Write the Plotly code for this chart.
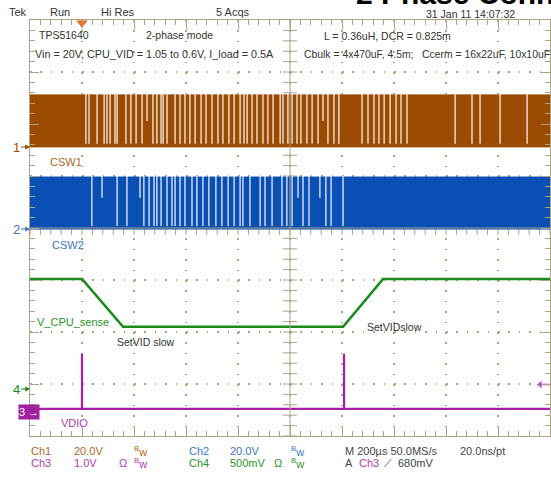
import numpy as np
import plotly.graph_objects as go

# ---------------- data ----------------
time_range_us = [-200, 1800]          # 200 us/div, trigger at t=0
csw_levels_v = [0, 20]                # switch node swings 0..Vin
csw1_gaps_us = [15, 27, 58, 85, 96, 108, 127, 135, 169, 188, 208, 231, 273, 288, 304, 312,
                327, 358, 377, 396, 415, 435, 458, 477, 500, 523, 542, 565, 585, 608, 623,
                635, 654, 673, 696, 715, 735, 762, 773, 792, 808, 827, 842, 865, 885, 908,
                946, 969, 988, 1077, 1100, 1123, 1142, 1162, 1185, 1208, 1227, 1250, 1435,
                1500, 1531, 1608, 1712]
csw1_short_gaps_us = [250, 927]
csw2_gaps_us = [38, 135, 173, 238, 258, 277, 288, 304, 327, 346, 358, 377, 396, 423, 442,
                465, 488, 515, 538, 562, 585, 608, 619, 646, 685, 704, 731, 769, 788, 808,
                850, 873, 938, 958, 1004]
csw2_short_gaps_us = [77, 223, 831, 915]
vcpu_t_us = [-200, 0, 158, 1004, 1158, 1800]
vcpu_v = [1.06, 1.06, 0.60, 0.60, 1.06, 1.06]
vdio_t_us = [-200, 0, 0, 0, 1008, 1008, 1008, 1800]
vdio_v = [0.21, 0.21, 1.27, 0.21, 0.21, 1.27, 0.21, 0.21]
trigger_level_v = 0.68

# channel volts/div and offset (divisions from centre)
ch_scale = {"ch1": 20.0, "ch2": 20.0, "ch3": 1.0, "ch4": 0.5}
ch_pos = {"ch1": 1.56, "ch2": -0.02, "ch3": -3.69, "ch4": -3.10}

# ---------------- geometry ----------------
W, H = 551, 478
L, R, T, B = 30, 1, 20, 42
PW, PH = W - L - R, H - T - B
TAN = "#aca486"
FONT = "Liberation Sans, Arial, sans-serif"

C1, C1T = "#9b4b00", "#b0651e"
C2, C2T = "#0a4fb4", "#3a74c6"
C3, C3T = "#a81ea8", "#b03cb0"
C4, C4T = "#1a8a1a", "#2a962a"


def px(x):
    return (x - L) / PW


def py(y):
    return (H - B - y) / PH


def ch_range(ch):
    return [(-4 - ch_pos[ch]) * ch_scale[ch], (4 - ch_pos[ch]) * ch_scale[ch]]


fig = go.Figure()

# switch-node bands
def band(yaxis, color):
    t0, t1 = time_range_us
    lo, hi = csw_levels_v
    fig.add_trace(go.Scatter(x=[t0, t1, t1, t0, t0], y=[lo, lo, hi, hi, lo], fill="toself",
                             fillcolor=color, mode="lines", line=dict(color=color, width=1),
                             yaxis=yaxis, hoverinfo="skip", showlegend=False))


def gaps(yaxis, full, short, frac_short, color="rgba(255,255,255,0.9)"):
    lo, hi = csw_levels_v
    xs, ys = [], []
    for t in full:
        xs += [t, t, None]
        ys += [lo + 0.06 * (hi - lo), hi + 0.5, None]
    for t in short:
        xs += [t, t, None]
        ys += [hi - frac_short * (hi - lo), hi + 0.5, None]
    fig.add_trace(go.Scatter(x=xs, y=ys, mode="lines", line=dict(color=color, width=1.3),
                             yaxis=yaxis, hoverinfo="skip", showlegend=False))


band("y2", C1)
gaps("y2", csw1_gaps_us, csw1_short_gaps_us, 0.5)
band("y3", C2)
gaps("y3", csw2_gaps_us, csw2_short_gaps_us, 0.4)

fig.add_trace(go.Scatter(x=vcpu_t_us, y=vcpu_v, mode="lines", line=dict(color=C4, width=2.6),
                         yaxis="y5", showlegend=False))
fig.add_trace(go.Scatter(x=vdio_t_us, y=vdio_v, mode="lines", line=dict(color=C3, width=2.2),
                         yaxis="y4", showlegend=False))

# trigger level marker (right edge) and trigger position (top)
fig.add_trace(go.Scatter(x=[1762, 1800], y=[trigger_level_v] * 2, mode="lines+markers",
                         line=dict(color=C3, width=1.5),
                         marker=dict(symbol=["triangle-left", "line-ns"], size=[8, 0], color=C3),
                         yaxis="y4", cliponaxis=False, showlegend=False))
fig.add_trace(go.Scatter(x=[0], y=[3.94], mode="markers",
                         marker=dict(symbol="triangle-down", size=10, color="#f07020"),
                         cliponaxis=False, showlegend=False))

# centre-cross graticule ticks
ticks_y = np.arange(-4, 4.001, 0.2)
ticks_x = np.arange(time_range_us[0], time_range_us[1] + 0.1, 40)
fig.add_trace(go.Scatter(x=[800] * len(ticks_y), y=ticks_y, mode="markers",
                         marker=dict(symbol="line-ew", size=10, line=dict(color=TAN, width=1)),
                         hoverinfo="skip", showlegend=False))
fig.add_trace(go.Scatter(x=ticks_x, y=[0] * len(ticks_x), mode="markers",
                         marker=dict(symbol="line-ns", size=10, line=dict(color=TAN, width=1)),
                         hoverinfo="skip", showlegend=False))

fig.add_shape(type="line", x0=800, x1=800, y0=-4, y1=4, xref="x", yref="y",
              line=dict(color=TAN, width=1))
fig.add_shape(type="line", x0=time_range_us[0], x1=time_range_us[1], y0=0, y1=0,
              xref="x", yref="y", line=dict(color=TAN, width=1))

axis_common = dict(showticklabels=False, showline=True, linecolor=TAN, linewidth=1,
                   mirror="ticks", ticks="inside", tickcolor=TAN, ticklen=9,
                   gridcolor=TAN, gridwidth=1.5, griddash="1.5px,8.9px", zeroline=False)

fig.update_layout(
    width=W, height=H, margin=dict(l=L, r=R, t=T, b=B, autoexpand=False),
    paper_bgcolor="white", plot_bgcolor="white", showlegend=False,
    font=dict(family=FONT, size=10, color="#333"),
    xaxis=dict(range=time_range_us, dtick=200, tick0=-200,
               minor=dict(ticks="inside", dtick=40, tick0=-200, ticklen=5, tickcolor=TAN),
               **axis_common),
    yaxis=dict(range=[-4, 4], dtick=1, tick0=-4,
               minor=dict(ticks="inside", dtick=0.2, tick0=-4, ticklen=5, tickcolor=TAN),
               **axis_common),
    yaxis2=dict(range=ch_range("ch1"), overlaying="y", visible=False),
    yaxis3=dict(range=ch_range("ch2"), overlaying="y", visible=False),
    yaxis4=dict(range=ch_range("ch3"), overlaying="y", visible=False),
    yaxis5=dict(range=ch_range("ch4"), overlaying="y", visible=False),
)


def ann(text, x, y, color="#333", size=10, xanchor="left", **kw):
    fig.add_annotation(text=text, x=px(x), y=py(y), xref="paper", yref="paper",
                       xanchor=xanchor, yanchor="middle", showarrow=False,
                       font=dict(family=FONT, size=size, color=color), **kw)


# header
fig.add_annotation(text="<b>2 Phase Connection</b>", x=px(354), y=py(12), xref="paper",
                   yref="paper", xanchor="left", yanchor="bottom", showarrow=False,
                   font=dict(family=FONT, size=30, color="black"))
ann("Tek", 7, 12, "#333", 11)
ann("Run", 48, 12, "#333", 11)
ann("Hi Res", 99, 12, "#333", 11)
ann("5 Acqs", 214, 12, "#333", 11)
ann("31 Jan 11 14:07:32", 424, 14, "#333", 10.5)

# in-screen notes
ann("TPS51640", 37, 35, "#333", 10.5)
ann("2-phase mode", 144, 35, "#333", 10.5)
ann("Vin = 20V, CPU_VID = 1.05 to 0.6V, I_load = 0.5A", 33, 54, "#333", 10.8)
ann("L = 0.36uH, DCR = 0.825m", 322, 36, "#333", 10.5)
ann("Cbulk = 4x470uF, 4.5m;   Ccerm = 16x22uF, 10x10uF", 302, 54, "#333", 10.4)
ann("CSW1", 48, 162, C1T, 11)
ann("CSW2", 50, 245, C2T, 11)
ann("V_CPU_sense", 35, 322, C4T, 11)
ann("SetVID slow", 115, 342, "#333", 10.5)
ann("SetVIDslow", 365, 327, "#333", 10.5)
ann("VDIO", 59, 423, C3T, 11)

# channel markers
for label, ypx, col in [("1", 147, C1), ("2", 229, C2T), ("4", 389, C4)]:
    fig.add_annotation(text=label, x=0, y=py(ypx), xref="paper", yref="paper",
                       ax=-14, ay=0, showarrow=True, arrowhead=2, arrowsize=0.8,
                       arrowwidth=1.2, arrowcolor=col, standoff=0,
                       font=dict(family=FONT, size=13, color=col))
fig.add_annotation(text="3 →", x=px(18), y=py(420), xref="paper", yref="paper",
                   showarrow=False, bgcolor="#a0209f", width=20, height=14, borderpad=0,
                   font=dict(family=FONT, size=11, color="white"))

# bottom readout
BW = "<sup>B</sup>w"
ann("Ch1", 29, 451, C1T, 11)
ann("20.0V", 72, 451, C1T, 11)
ann(BW, 132, 451, C1T, 11)
ann("Ch2", 187, 451, C2T, 11)
ann("20.0V", 228, 451, C2T, 11)
ann(BW, 289, 451, C2T, 11)
ann("Ch3", 29, 463, C3T, 11)
ann("1.0V", 72, 463, C3T, 11)
ann("Ω", 117, 463, C3T, 11)
ann(BW, 132, 463, C3T, 11)
ann("Ch4", 187, 463, C4T, 11)
ann("500mV", 228, 463, C4T, 11)
ann("Ω", 272, 463, C4T, 11)
ann(BW, 289, 463, C4T, 11)
ann("M 200µs 50.0MS/s", 343, 451, "#444", 11)
ann("20.0ns/pt", 458, 451, "#444", 11)
ann("A", 343, 463, "#444", 11)
ann("Ch3", 357, 463, C3T, 11)
ann("⟋", 382, 463, "#444", 11)
ann("680mV", 396, 463, "#444", 11)

fig.write_html("out.html", config={"displayModeBar": False},
               post_script="document.body.style.margin='0';document.body.style.overflow='hidden';")
